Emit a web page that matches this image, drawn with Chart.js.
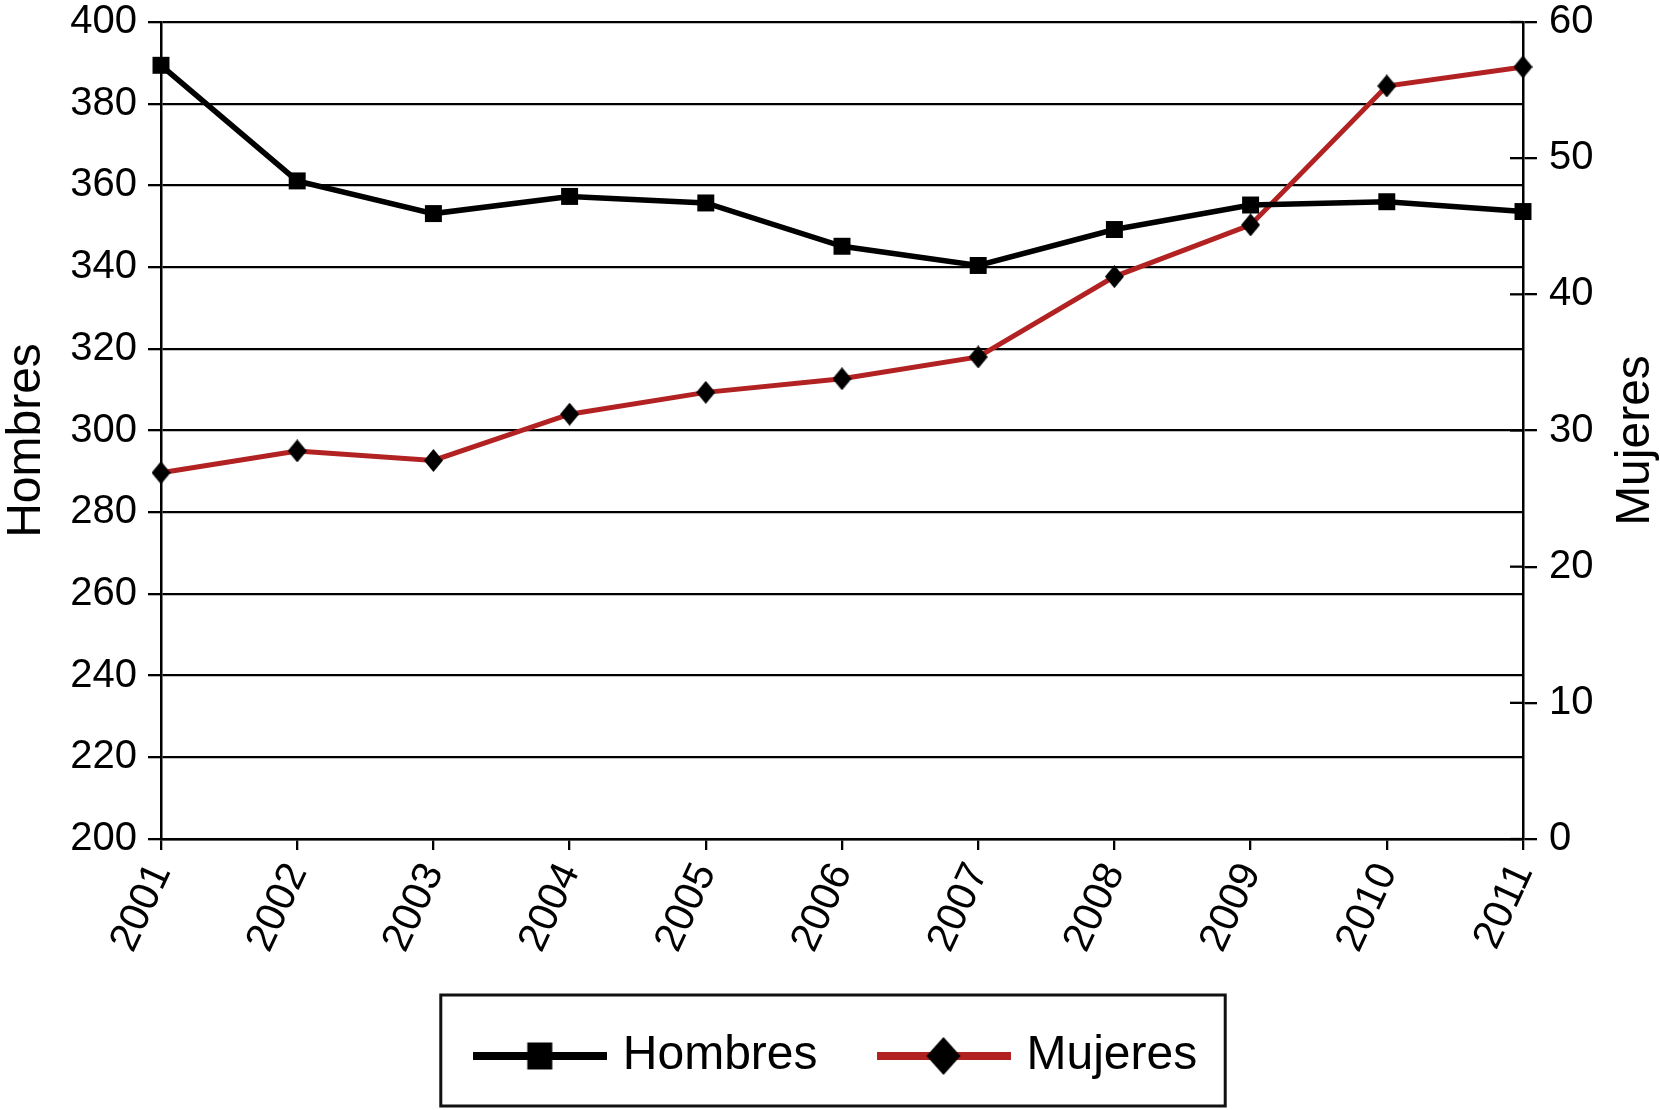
<!DOCTYPE html>
<html>
<head>
<meta charset="utf-8">
<script src="https://cdn.jsdelivr.net/npm/chart.js@4/dist/chart.umd.min.js"></script>
<style>
  html, body { margin: 0; padding: 0; background: #ffffff; }
  #wrap { width: 1660px; height: 1110px; }
</style>
</head>
<body>
<div id="wrap"><canvas id="c" width="1660" height="1110"></canvas></div>
<script>
const years = ['2001','2002','2003','2004','2005','2006','2007','2008','2009','2010','2011'];
const hombres = [389.4, 361.1, 353.1, 357.3, 355.7, 345.1, 340.4, 349.2, 355.2, 356.0, 353.6];
const mujeres = [26.9, 28.5, 27.8, 31.2, 32.8, 33.8, 35.4, 41.3, 45.1, 55.3, 56.7];
const hombresTicks = [200, 220, 240, 260, 280, 300, 320, 340, 360, 380, 400];
const mujeresTicks = [0, 10, 20, 30, 40, 50, 60];
const seriesNames = ['Hombres', 'Mujeres'];
const axisTitles = ['Hombres', 'Mujeres'];

const FONT = 'Liberation Sans, Arial, Helvetica, sans-serif';
const RED = '#b22222';

function makeCanvas(w, h, draw) {
  const cv = document.createElement('canvas');
  cv.width = w; cv.height = h;
  draw(cv.getContext('2d'), w, h);
  return cv;
}
// data marker: diamond
const diamondPt = makeCanvas(19, 23, (g, w, h) => {
  g.fillStyle = '#000';
  g.beginPath(); g.moveTo(w/2, 0); g.lineTo(w, h/2); g.lineTo(w/2, h); g.lineTo(0, h/2); g.closePath(); g.fill();
});
// legend symbols
const legHombres = makeCanvas(134, 30, (g, w, h) => {
  g.fillStyle = '#000';
  g.fillRect(0, h/2 - 4, w, 8);
  g.fillRect(w/2 - 12.5, h/2 - 13.5, 25, 27);
});
const legMujeres = makeCanvas(134, 38, (g, w, h) => {
  g.fillStyle = RED;
  g.fillRect(0, h/2 - 4, w, 8);
  g.fillStyle = '#000';
  g.beginPath(); g.moveTo(w/2, 0); g.lineTo(w/2 + 17, h/2); g.lineTo(w/2, h); g.lineTo(w/2 - 17, h/2); g.closePath(); g.fill();
});
const legendImgs = [legHombres, legMujeres];

const extras = {
  id: 'extras',
  beforeDatasetsDraw(chart) {
    const ctx = chart.ctx;
    const ys = chart.scales.y2;
    ctx.save();
    ctx.strokeStyle = '#000';
    ctx.lineWidth = 2.3;
    ys.ticks.forEach(t => {
      const py = ys.getPixelForValue(t.value);
      ctx.beginPath(); ctx.moveTo(ys.left - 13, py); ctx.lineTo(ys.left, py); ctx.stroke();
    });
    ctx.restore();
  },
  afterDraw(chart) {
    const ctx = chart.ctx;
    const ca = chart.chartArea;
    const cy = (ca.top + ca.bottom) / 2 + 10;
    ctx.save();
    ctx.fillStyle = '#000';
    ctx.font = '48px ' + FONT;
    ctx.textAlign = 'center';
    ctx.textBaseline = 'middle';
    ctx.translate(27, cy); ctx.rotate(-Math.PI / 2); ctx.fillText(axisTitles[0], 0, 0);
    ctx.restore();
    ctx.save();
    ctx.fillStyle = '#000';
    ctx.font = '48px ' + FONT;
    ctx.textAlign = 'center';
    ctx.textBaseline = 'middle';
    ctx.translate(chart.width - 24, cy); ctx.rotate(-Math.PI / 2); ctx.fillText(axisTitles[1], 0, 0);
    ctx.restore();
    // legend frame
    const lg = chart.legend;
    if (lg && lg.legendHitBoxes && lg.legendHitBoxes.length) {
      const hb = lg.legendHitBoxes;
      const first = hb[0], last = hb[hb.length - 1];
      const midY = first.top + first.height / 2;
      const x0 = first.left - 40, x1 = last.left + last.width + 28;
      ctx.save();
      ctx.strokeStyle = '#111';
      ctx.lineWidth = 3;
      ctx.strokeRect(x0, midY - 61, x1 - x0, 111);
      ctx.restore();
    }
  }
};

new Chart(document.getElementById('c'), {
  type: 'line',
  data: {
    labels: years,
    datasets: [
      {
        label: seriesNames[0],
        data: hombres,
        yAxisID: 'y',
        borderColor: '#000',
        backgroundColor: '#000',
        borderWidth: 5.5,
        pointStyle: 'rect',
        pointRadius: 12,
        pointBorderWidth: 0,
        pointBackgroundColor: '#000',
        tension: 0
      },
      {
        label: seriesNames[1],
        data: mujeres,
        yAxisID: 'y2',
        borderColor: RED,
        backgroundColor: RED,
        borderWidth: 5,
        pointStyle: diamondPt,
        pointRadius: 11,
        tension: 0
      }
    ]
  },
  options: {
    responsive: false,
    animation: false,
    events: [],
    layout: { padding: { left: 18, right: 0, top: 0, bottom: 20 } },
    plugins: {
      tooltip: { enabled: false },
      title: { display: false },
      legend: {
        display: true,
        position: 'bottom',
        labels: {
          usePointStyle: true,
          pointStyleWidth: 118,
          padding: 67,
          color: '#000',
          font: { family: FONT, size: 48 },
          generateLabels(chart) {
            const items = Chart.defaults.plugins.legend.labels.generateLabels(chart);
            items.forEach((it, i) => { it.pointStyle = legendImgs[i]; });
            return items;
          }
        }
      }
    },
    scales: {
      x: {
        type: 'category',
        offset: false,
        afterFit(s) { s.height = 126; },
        grid: { drawOnChartArea: false, drawTicks: true, tickLength: 11, color: '#000', lineWidth: 2.3 },
        border: { display: true, color: '#000', width: 2.5 },
        ticks: { color: '#000', font: { family: FONT, size: 41 }, maxRotation: 65, minRotation: 65, padding: 6, autoSkip: false }
      },
      y: {
        position: 'left',
        min: hombresTicks[0],
        max: hombresTicks[hombresTicks.length - 1],
        afterBuildTicks(s) { s.ticks = hombresTicks.map(v => ({ value: v })); },
        afterFit(s) { s.width = 143; s.paddingTop = 22; },
        grid: { drawOnChartArea: true, drawTicks: true, tickLength: 13, color: '#000', lineWidth: 2.3 },
        border: { display: true, color: '#000', width: 2.5 },
        ticks: { color: '#000', font: { family: FONT, size: 40 }, padding: 11 }
      },
      y2: {
        position: 'right',
        min: mujeresTicks[0],
        max: mujeresTicks[mujeresTicks.length - 1],
        afterBuildTicks(s) { s.ticks = mujeresTicks.map(v => ({ value: v })); },
        afterFit(s) { s.width = 137; s.paddingTop = 22; },
        grid: { drawOnChartArea: false, drawTicks: true, tickLength: 14, color: '#000', lineWidth: 2.3 },
        border: { display: true, color: '#000', width: 2.5 },
        ticks: { color: '#000', font: { family: FONT, size: 40 }, padding: 12 }
      }
    }
  },
  plugins: [extras]
});
</script>
</body>
</html>
